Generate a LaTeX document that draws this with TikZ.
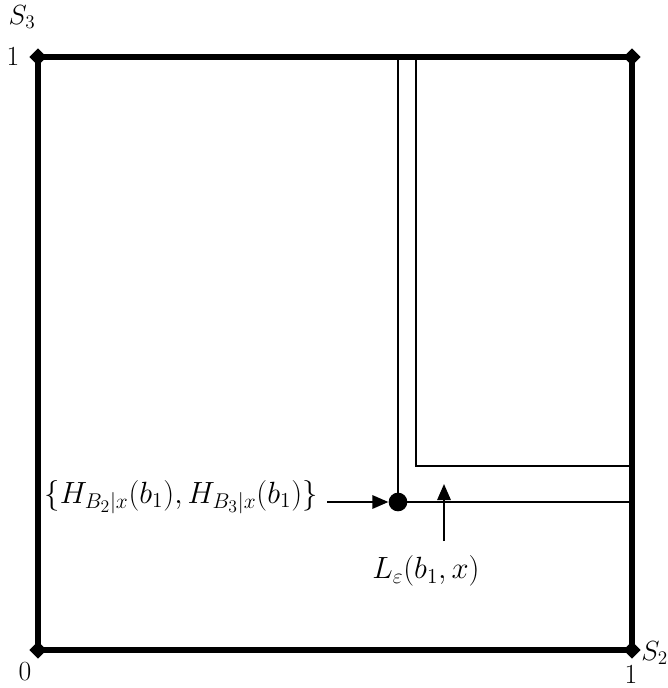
\documentclass[tikz,border=0pt]{standalone}
\usepackage{graphicx}
\usetikzlibrary{shapes.geometric,arrows.meta}
\newcommand{\biglabel}[1]{\scalebox{1.11}{\huge #1}}
\begin{document}
\begin{tikzpicture}[x=0.75pt,y=-0.75pt,
  frame/.style={line width=4.2pt},
  thin line/.style={line width=1.5pt},
  corner/.style={diamond,fill=black,inner sep=0pt,minimum size=13pt},
  lbl/.style={inner sep=0pt,font=\huge},
  biglbl/.style={inner sep=0pt},
  pointer/.style={line width=1.5pt,-{Triangle[length=12pt,width=10pt]}}]
\useasboundingbox (0,0) rectangle (667,688);
\coordinate (c00) at (38,650);
\coordinate (c10) at (632,650);
\coordinate (c11) at (632,57);
\coordinate (c01) at (38,57);
% inner lines
\coordinate (t1) at (398,57);
\coordinate (t2) at (416,57);
\coordinate (k2) at (416,466);
\coordinate (r2) at (632,466);
\coordinate (r1) at (632,502);
\node[circle,fill=black,inner sep=0pt,minimum size=14pt] (dot) at (398,502) {};
\draw[thin line] (t1) -- (dot.center) -- (r1);
\draw[thin line] (t2) -- (k2) -- (r2);
\draw[frame] (c00) -- (c10) -- (c11) -- (c01) -- cycle;
\node[corner] (d00) at (c00) {};
\node[corner] (d10) at (c10) {};
\node[corner] (d11) at (c11) {};
\node[corner] (d01) at (c01) {};
% labels
\node[lbl] (s3) at (22,17) {$S_3$};
\node[lbl] (one3) at (13,57) {$1$};
\node[lbl] (zero) at (25,672) {$0$};
\node[lbl] (one2) at (631,675) {$1$};
\node[lbl,anchor=west] (s2) at (641,653) {$S_2$};
\node[biglbl] (H) at (181,497) {\biglabel{$\bigl\{H_{B_2|x}(b_1),H_{B_3|x}(b_1)\bigr\}$}};
\node[biglbl] (L) at (426,571) {\biglabel{$L_\varepsilon(b_1,x)$}};
\coordinate (hstart) at (327,502);
\coordinate (lstart) at (444,541);
\draw[pointer] (hstart) -- (dot.west);
\draw[pointer] (lstart) -- (444,484);
\end{tikzpicture}
\end{document}
